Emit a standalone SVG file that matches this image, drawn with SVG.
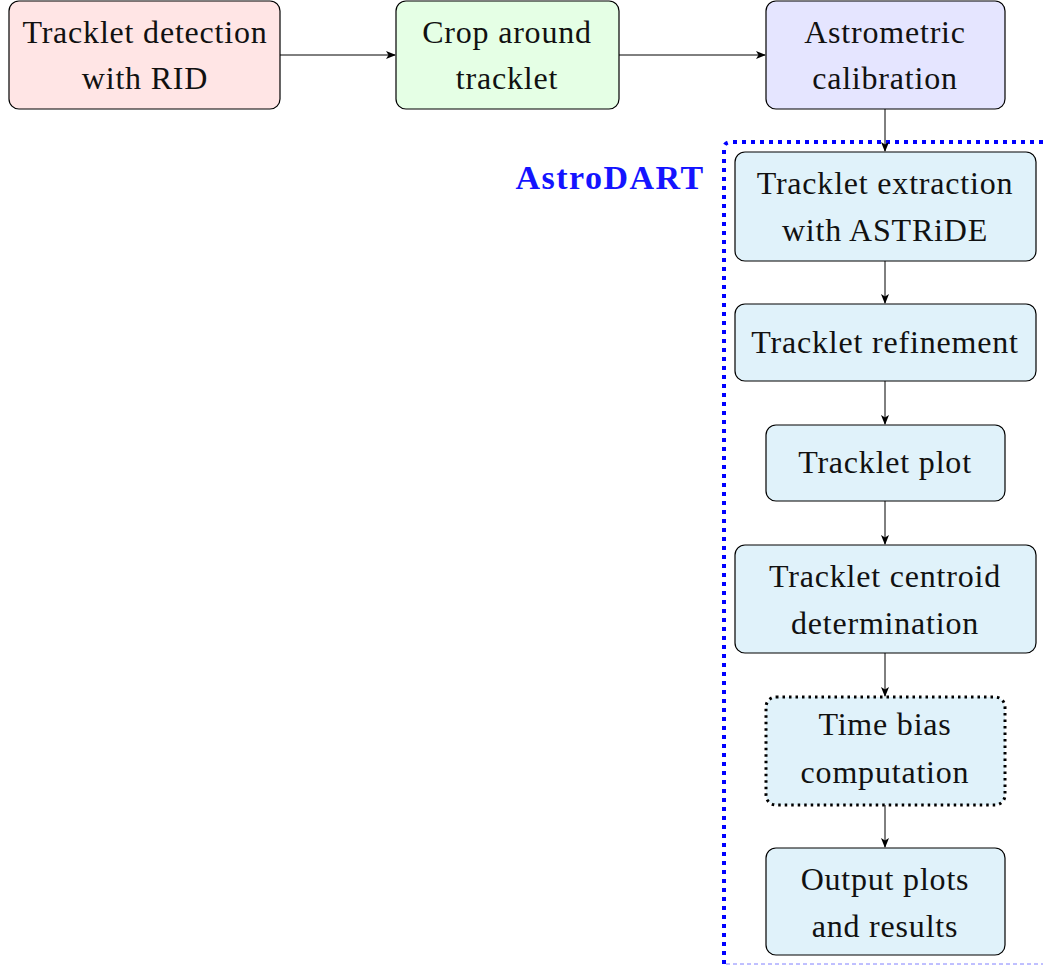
<svg xmlns="http://www.w3.org/2000/svg" width="1043" height="966" viewBox="0 0 1043 966">
<defs>
<style>
.box{stroke:#000;stroke-width:1.2}
.t{font-family:"Liberation Serif",serif;font-size:32px;letter-spacing:0.8px;fill:#111;text-anchor:middle}
.c{stroke:#000;stroke-width:1;fill:none;marker-end:url(#ah)}
.red{fill:#ffe5e5}.green{fill:#e5ffe5}.blue{fill:#e5e5ff}.cy{fill:#e0f2fa}
</style>
<marker id="ah" markerWidth="10" markerHeight="8" refX="9" refY="4" orient="auto" markerUnits="userSpaceOnUse">
<path d="M0,0 L10,4 L0,8 L2.5,4 Z" fill="#000"/>
</marker>
</defs>
<rect width="1043" height="966" fill="#fff"/>
<g id="astrodart">
<path d="M1043,142 L731,142 Q724,142 724,149 L724,964" fill="none" stroke="#0000ff" stroke-width="4" stroke-dasharray="4,5"/>
<line x1="726" y1="964" x2="1043" y2="964" stroke="#8080ff" stroke-width="1" stroke-dasharray="4,3"/>
<text x="610" y="189" font-family="Liberation Serif,serif" font-weight="bold" font-size="34" letter-spacing="1.5" fill="#1414ff" text-anchor="middle">AstroDART</text>
</g>
<g id="connectors">
<line class="c" x1="280" y1="55" x2="395" y2="55"/>
<line class="c" x1="619" y1="55" x2="765" y2="55"/>
<line class="c" x1="885" y1="109" x2="885" y2="151"/>
<line class="c" x1="885" y1="261" x2="885" y2="303"/>
<line class="c" x1="885" y1="381" x2="885" y2="424"/>
<line class="c" x1="885" y1="501" x2="885" y2="544"/>
<line class="c" x1="885" y1="653" x2="885" y2="696"/>
<line class="c" x1="885" y1="805" x2="885" y2="847"/>
</g>
<g id="n1"><rect class="box red" x="9" y="1" width="271" height="108" rx="10"/><text class="t" x="145" y="43">Tracklet detection</text><text class="t" x="145" y="89">with RID</text></g>
<g id="n2"><rect class="box green" x="396" y="1" width="223" height="108" rx="10"/><text class="t" x="507" y="43">Crop around</text><text class="t" x="507" y="89">tracklet</text></g>
<g id="n3"><rect class="box blue" x="766" y="1" width="239" height="108" rx="10"/><text class="t" x="885" y="43">Astrometric</text><text class="t" x="885" y="89">calibration</text></g>
<g id="n4"><rect class="box cy" x="735" y="152" width="301" height="109" rx="10"/><text class="t" x="885" y="194">Tracklet extraction</text><text class="t" x="885" y="241">with ASTRiDE</text></g>
<g id="n5"><rect class="box cy" x="735" y="304" width="301" height="77" rx="10"/><text class="t" x="885" y="353">Tracklet refinement</text></g>
<g id="n6"><rect class="box cy" x="766" y="425" width="239" height="76" rx="10"/><text class="t" x="885" y="473">Tracklet plot</text></g>
<g id="n7"><rect class="box cy" x="735" y="545" width="301" height="108" rx="10"/><text class="t" x="885" y="587">Tracklet centroid</text><text class="t" x="885" y="634">determination</text></g>
<g id="n8"><rect class="cy" x="766" y="697" width="239" height="108" rx="10" stroke="#000" stroke-width="3" stroke-dasharray="2.5,4"/><text class="t" x="885" y="735">Time bias</text><text class="t" x="885" y="783">computation</text></g>
<g id="n9"><rect class="box cy" x="766" y="848" width="239" height="107" rx="10"/><text class="t" x="885" y="890">Output plots</text><text class="t" x="885" y="937">and results</text></g>
</svg>
